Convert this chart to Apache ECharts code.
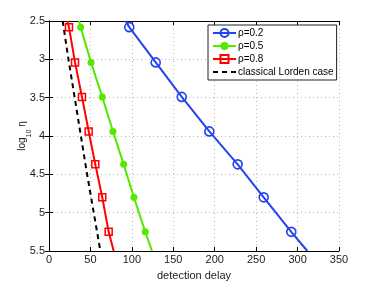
<!DOCTYPE html>
<html>
<head>
<meta charset="utf-8">
<script src="https://cdn.jsdelivr.net/npm/echarts@6/dist/echarts.min.js"></script>
<style>html,body{margin:0;padding:0;background:#fff}#c{width:374px;height:283px}</style>
</head>
<body>
<div id="c"></div>
<script>
// log10(eta) levels; first and last are the plot edges (no marker)
const levels = [2.5, 2.58, 3.04, 3.49, 3.94, 4.37, 4.80, 5.25, 5.5];
const rho02 = [92.5, 96.9, 128.8, 160.2, 193.5, 227.7, 259.1, 292.4, 311.8];
const rho05 = [36.2, 38.2, 50.7, 64.3, 77.2, 90.1, 102.5, 116.2, 124.3];
const rho08 = [22.1, 24.1, 31.4, 39.8, 47.9, 55.9, 64.3, 72.0, 78.1];
const lordenLevels = [2.5, 3, 3.5, 4, 4.5, 5, 5.5];
const lorden = [16.5, 23.5, 31, 38.5, 46, 54, 62];
const seriesNames = ['\u03c1=0.2', '\u03c1=0.5', '\u03c1=0.8', 'classical Lorden case'];
const xTicks = {min: 0, max: 350, interval: 50};
const yTicks = {min: 2.5, max: 5.5, interval: 0.5};

const FONT = 'Liberation Sans';
function pts(xs, ys, marked) {
  return xs.map((x, i) => {
    const p = {value: [x, ys[i]]};
    if (marked && (i === 0 || i === xs.length - 1)) p.symbol = 'none';
    return p;
  });
}
const chart = echarts.init(document.getElementById('c'), null, {renderer: 'canvas'});
const axisCommon = {
  axisLine: {show: true, lineStyle: {color: '#000', width: 1}},
  axisTick: {show: true, inside: true, length: 4, lineStyle: {color: '#000'}},
  splitLine: {show: false}
};
chart.setOption({
  animation: false,
  backgroundColor: '#fff',
  textStyle: {fontFamily: FONT},
  grid: {left: 49, right: 35, top: 21, bottom: 32, containLabel: false, outerBoundsMode: 'none'},
  legend: {
    orient: 'vertical', left: 208, top: 25,
    backgroundColor: '#fff', borderColor: '#222', borderWidth: 1,
    padding: [3, 3, 3, 4], itemGap: 3, itemWidth: 23, itemHeight: 10,
    textStyle: {fontFamily: FONT, fontSize: 10, color: '#000', padding: [0, 0, 0, -3]},
    data: [
      {name: seriesNames[0]},
      {name: seriesNames[1]},
      {name: seriesNames[2]},
      {name: seriesNames[3], itemStyle: {opacity: 0}}
    ]
  },
  xAxis: [
    Object.assign({}, axisCommon, {
      type: 'value', min: xTicks.min, max: xTicks.max, interval: xTicks.interval,
      name: 'detection delay', nameLocation: 'middle', nameGap: 19, nameMoveOverlap: false,
      nameTextStyle: {fontFamily: FONT, fontSize: 11, color: '#222'},
      axisLabel: {fontFamily: FONT, fontSize: 11, color: '#222', margin: 3},
      splitLine: {show: true, lineStyle: {color: '#bbb', type: [1, 3], width: 1}}
    }),
    Object.assign({}, axisCommon, {
      type: 'value', position: 'top', min: xTicks.min, max: xTicks.max, interval: xTicks.interval,
      axisLabel: {show: false}
    })
  ],
  yAxis: [
    Object.assign({}, axisCommon, {
      type: 'value', inverse: true, min: yTicks.min, max: yTicks.max, interval: yTicks.interval,
      name: '{a|log}{b|10}{a| \u03b7}', nameLocation: 'middle', nameGap: 22, nameMoveOverlap: false,
      nameTextStyle: {rich: {
        a: {fontFamily: FONT, fontSize: 10, color: '#222'},
        b: {fontFamily: FONT, fontSize: 7, color: '#222', verticalAlign: 'bottom', padding: [0, 0, -6, 0]}
      }},
      axisLabel: {fontFamily: FONT, fontSize: 11, color: '#222', margin: 4},
      splitLine: {show: true, lineStyle: {color: '#bbb', type: [1, 3], width: 1}}
    }),
    Object.assign({}, axisCommon, {
      type: 'value', position: 'right', inverse: true, min: yTicks.min, max: yTicks.max, interval: yTicks.interval,
      axisLabel: {show: false}
    })
  ],
  series: [
    {
      name: seriesNames[0], type: 'line', data: pts(rho02, levels, true),
      symbol: 'circle', symbolSize: 9, showAllSymbol: true,
      lineStyle: {color: '#2244ee', width: 2},
      itemStyle: {color: 'rgba(255,255,255,0)', borderColor: '#2244ee', borderWidth: 1.6},
      z: 4
    },
    {
      name: seriesNames[1], type: 'line', data: pts(rho05, levels, true),
      symbol: 'circle', symbolSize: 7, showAllSymbol: true,
      lineStyle: {color: '#55e800', width: 2},
      itemStyle: {color: '#55e800', borderColor: '#55e800', borderWidth: 0},
      z: 3
    },
    {
      name: seriesNames[2], type: 'line', data: pts(rho08, levels, true),
      symbol: 'rect', symbolSize: 7, showAllSymbol: true,
      lineStyle: {color: '#ff0000', width: 2},
      itemStyle: {color: 'rgba(255,255,255,0)', borderColor: '#ff0000', borderWidth: 1.5},
      z: 3
    },
    {
      name: seriesNames[3], type: 'line', data: pts(lorden, lordenLevels, false),
      symbol: 'none',
      lineStyle: {color: '#000', width: 2, type: [5, 4]},
      itemStyle: {color: '#000'},
      z: 2
    }
  ]
});
</script>
</body>
</html>
